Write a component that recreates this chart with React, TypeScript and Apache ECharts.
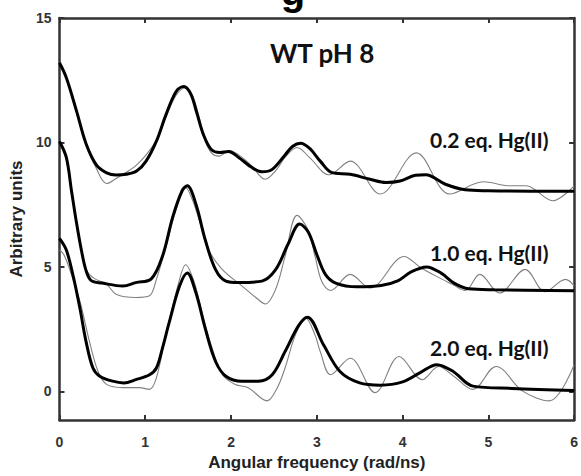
import React, { useEffect, useRef } from "react";
import * as echarts from "echarts";

const xTicks = [0, 1, 2, 3, 4, 5, 6];
const yTickValues = [0, 5, 10, 15];

const fit02: number[][] = [
  [0, 13.2], [0.08, 12.6], [0.2, 11.25], [0.31, 9.95], [0.43, 9.1], [0.55, 8.78],
  [0.66, 8.69], [0.78, 8.72], [0.9, 8.85], [1.01, 9.25], [1.13, 10.05], [1.24, 11.1],
  [1.36, 12.05], [1.45, 12.25], [1.53, 11.95], [1.6, 11.2], [1.68, 10.3], [1.77, 9.72],
  [1.87, 9.6], [1.97, 9.64], [2.09, 9.4], [2.24, 9.0], [2.36, 8.82], [2.48, 8.92],
  [2.63, 9.5], [2.72, 9.85], [2.81, 9.97], [2.92, 9.75], [3.04, 9.25], [3.17, 8.8],
  [3.39, 8.72], [3.62, 8.52], [3.81, 8.39], [3.97, 8.45], [4.15, 8.68], [4.27, 8.7],
  [4.5, 8.32], [4.73, 8.1], [5.0, 8.06], [5.5, 8.04], [6.0, 8.04],
];

const raw02: number[][] = [
  [0, 13.2], [0.1, 12.4], [0.2, 11.2], [0.31, 9.9], [0.43, 8.95], [0.55, 8.35],
  [0.66, 8.55], [0.78, 8.8], [0.9, 9.1], [1.01, 9.5], [1.13, 10.1], [1.24, 11.0],
  [1.36, 11.9], [1.47, 12.2], [1.55, 11.9], [1.63, 11.0], [1.7, 10.05], [1.78, 9.55],
  [1.86, 9.45], [1.98, 9.67], [2.09, 9.5], [2.23, 9.1], [2.4, 8.52], [2.52, 8.86],
  [2.63, 9.4], [2.77, 9.8], [2.92, 9.38], [3.14, 8.7], [3.39, 9.25], [3.74, 7.93],
  [4.16, 9.58], [4.55, 7.93], [4.94, 8.42], [5.25, 8.26], [5.44, 8.26], [5.75, 7.66],
  [6.0, 8.26],
];

const fit10: number[][] = [
  [0, 10.04], [0.08, 9.4], [0.14, 8.06], [0.2, 6.74], [0.255, 5.68], [0.31, 4.85],
  [0.37, 4.45], [0.5, 4.35], [0.74, 4.23], [0.89, 4.37], [1.07, 4.52], [1.2, 5.42],
  [1.32, 7.0], [1.43, 8.06], [1.49, 8.26], [1.59, 7.53], [1.7, 6.08], [1.82, 4.89],
  [1.94, 4.43], [2.09, 4.37], [2.36, 4.43], [2.52, 4.89], [2.67, 5.95], [2.8, 6.72],
  [2.9, 6.4], [3.0, 5.5], [3.1, 4.7], [3.22, 4.35], [3.47, 4.2], [3.75, 4.25],
  [3.95, 4.45], [4.1, 4.8], [4.28, 5.0], [4.45, 4.75], [4.6, 4.35], [4.77, 4.12],
  [5.07, 4.08], [6.0, 4.04],
];

const raw10: number[][] = [
  [0, 10.0], [0.08, 9.3], [0.14, 8.0], [0.2, 6.7], [0.26, 5.6], [0.31, 4.9],
  [0.4, 4.55], [0.55, 4.3], [0.66, 3.9], [0.89, 3.77], [1.05, 3.84], [1.13, 4.5],
  [1.24, 5.8], [1.36, 7.3], [1.47, 8.2], [1.55, 7.7], [1.63, 6.87], [1.74, 5.68],
  [1.9, 4.89], [2.13, 4.23], [2.29, 3.77], [2.4, 3.51], [2.52, 4.1], [2.63, 5.42],
  [2.77, 7.07], [2.9, 6.48], [2.98, 5.42], [3.06, 4.4], [3.16, 4.05], [3.39, 4.7],
  [3.62, 4.15], [4.02, 5.42], [4.2, 5.0], [4.39, 4.63], [4.58, 4.3], [4.73, 4.05],
  [4.9, 4.7], [5.13, 3.95], [5.43, 4.9], [5.66, 4.0], [5.9, 4.5], [6.0, 4.25],
];

const fit20: number[][] = [
  [0, 6.15], [0.08, 5.68], [0.16, 4.63], [0.24, 3.31], [0.31, 2.0], [0.39, 0.94],
  [0.47, 0.61], [0.62, 0.41], [0.75, 0.34], [0.89, 0.47], [1.05, 0.67], [1.13, 0.94],
  [1.2, 1.73], [1.28, 2.78], [1.4, 4.23], [1.49, 4.76], [1.59, 3.97], [1.7, 2.52],
  [1.82, 1.2], [1.94, 0.61], [2.13, 0.41], [2.32, 0.41], [2.48, 0.67], [2.63, 1.6],
  [2.79, 2.65], [2.89, 2.98], [3.08, 1.86], [3.27, 0.8], [3.5, 0.34], [3.74, 0.25],
  [4.0, 0.38], [4.2, 0.74], [4.4, 1.07], [4.59, 0.8], [4.82, 0.21], [5.28, 0.12],
  [6.0, 0.04],
];

const raw20: number[][] = [
  [0, 5.68], [0.05, 5.5], [0.12, 4.89], [0.24, 3.6], [0.35, 2.0], [0.45, 0.8],
  [0.55, 0.28], [0.74, 0.15], [0.93, 0.15], [1.05, 0.08], [1.13, 0.54], [1.24, 2.26],
  [1.4, 4.5], [1.47, 5.09], [1.57, 4.4], [1.67, 3.05], [1.78, 1.73], [1.9, 0.67],
  [2.05, 0.28], [2.2, 0.15], [2.42, -0.38], [2.54, 0.15], [2.63, 0.94], [2.75, 2.26],
  [2.87, 2.95], [2.98, 2.26], [3.04, 1.6], [3.16, 0.67], [3.39, 1.33], [3.68, -0.05],
  [3.96, 1.4], [4.23, 0.47], [4.42, 1.0], [4.6, 0.6], [4.82, 0.08], [5.09, 1.0],
  [5.4, 0.01], [5.71, -0.38], [6.0, 1.07],
];

const AXIS_COLOR = "#333";
const LABEL_FONT = "Liberation Sans";

function axisBase(extra: any) {
  return {
    axisLine: { show: true, onZero: false, lineStyle: { color: AXIS_COLOR, width: 2.5 } },
    axisTick: { show: true, inside: true, length: 5, lineStyle: { color: AXIS_COLOR, width: 2 } },
    splitLine: { show: false },
    ...extra,
  };
}

export default function App() {
  const ref = useRef<HTMLDivElement>(null);
  useEffect(() => {
    if (!ref.current) return;
    const chart = echarts.init(ref.current, undefined, { renderer: "svg" });
    const labelStyle = {
      color: AXIS_COLOR,
      fontWeight: "bold",
      fontSize: 14,
      fontFamily: LABEL_FONT,
    };
    const nameStyle = {
      color: "#222",
      fontWeight: "bold",
      fontSize: 17,
      fontFamily: LABEL_FONT,
    };
    const thin = (data: number[][]) => ({
      type: "line",
      data,
      smooth: 0.35,
      showSymbol: false,
      symbol: "none",
      lineStyle: { color: "#808080", width: 1.1 },
      z: 2,
    });
    const thick = (data: number[][]) => ({
      type: "line",
      data,
      smooth: 0.35,
      showSymbol: false,
      symbol: "none",
      lineStyle: { color: "#000", width: 3 },
      z: 3,
    });
    const annot = (text: string, x: number, y: number, size: number) => ({
      type: "text",
      x,
      y,
      style: {
        text,
        fill: "#111",
        font: `bold ${size}px Lato`,
        align: "left",
        verticalAlign: "middle",
      },
      z: 10,
    });
    chart.setOption({
      animation: false,
      grid: { left: 58, right: 6, top: 18, bottom: 50, containLabel: false },
      xAxis: [
        axisBase({
          type: "value",
          position: "bottom",
          min: xTicks[0],
          max: xTicks[xTicks.length - 1],
          interval: 1,
          axisLabel: { ...labelStyle, margin: 15 },
          name: "Angular frequency (rad/ns)",
          nameLocation: "middle",
          nameGap: 34,
          nameTextStyle: nameStyle,
        }),
        axisBase({
          type: "value",
          position: "top",
          min: xTicks[0],
          max: xTicks[xTicks.length - 1],
          interval: 1,
          axisLabel: { show: false },
        }),
      ],
      yAxis: [
        axisBase({
          type: "value",
          position: "left",
          min: -1.15,
          max: 15,
          axisLabel: { ...labelStyle, margin: 8, customValues: yTickValues },
          axisTick: {
            show: true,
            inside: true,
            length: 5,
            customValues: yTickValues,
            lineStyle: { color: AXIS_COLOR, width: 2 },
          },
          name: "Arbitrary units",
          nameLocation: "middle",
          nameGap: 31,
          nameTextStyle: nameStyle,
        }),
        axisBase({
          type: "value",
          position: "right",
          min: -1.15,
          max: 15,
          axisLabel: { show: false, customValues: yTickValues },
          axisTick: {
            show: true,
            inside: true,
            length: 5,
            customValues: yTickValues,
            lineStyle: { color: AXIS_COLOR, width: 2 },
          },
        }),
      ],
      series: [
        thin(raw02),
        thin(raw10),
        thin(raw20),
        thick(fit02),
        thick(fit10),
        thick(fit20),
      ],
      graphic: [
        {
          type: "text",
          x: 293,
          y: -9,
          style: {
            text: "g",
            fill: "#000",
            font: "bold 40px Liberation Sans",
            align: "center",
            verticalAlign: "middle",
          },
        },
        annot("WT pH 8", 270, 53, 26),
        annot("0.2 eq. Hg(II)", 430, 139, 21),
        annot("1.0 eq. Hg(II)", 430, 252, 21),
        annot("2.0 eq. Hg(II)", 430, 347, 21),
      ],
    });
    return () => chart.dispose();
  }, []);
  return (
    <div
      ref={ref}
      style={{ position: "fixed", left: 0, top: 0, width: 581, height: 476, background: "#fff" }}
    />
  );
}
